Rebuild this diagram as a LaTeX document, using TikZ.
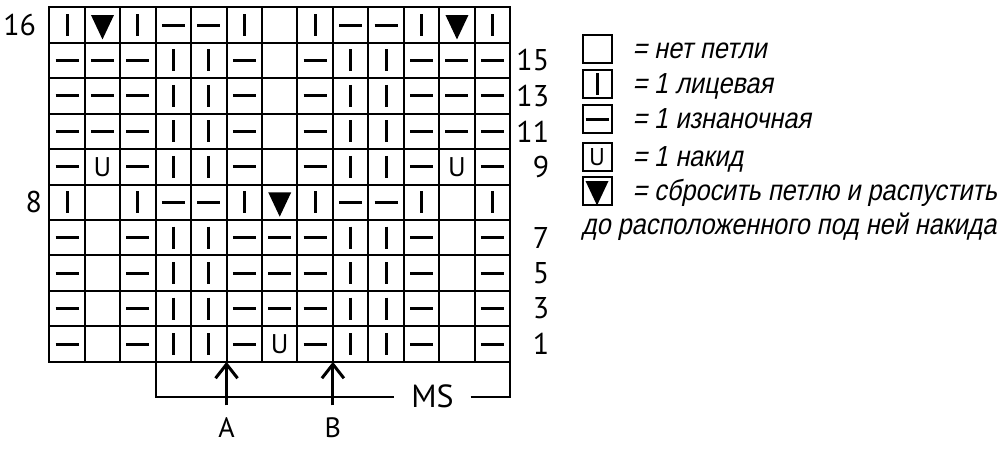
\documentclass[tikz,border=0pt]{standalone}
\usepackage{fontspec}
\setsansfont{PT Sans}
\newfontfamily\legendfont[FakeStretch=0.87,FakeSlant=0.2]{Liberation Sans}
\usetikzlibrary{positioning,arrows.meta}

\begin{document}
\begin{tikzpicture}[x=0.5pt,y=-0.5pt]
        \tikzstyle{every path}=[line width=1pt]
        \useasboundingbox (0,0) rectangle (1000,463);

        \edef\sizecell{17.725pt}
        \def\symscale{1}
        \tikzstyle{cell}=[draw,minimum size=\sizecell,inner sep=0pt,outer sep=0pt]
        \tikzstyle{key}=[draw,minimum width=14.5pt,minimum height=14pt,inner sep=0pt,outer sep=0pt]
        \tikzstyle{num}=[font=\sffamily\fontsize{15}{17}\selectfont,inner sep=0pt]
        \tikzstyle{letter}=[font=\sffamily\fontsize{14}{16}\selectfont,inner sep=0pt]
        \tikzstyle{legend}=[font=\legendfont\fontsize{14.5}{17}\selectfont,inner sep=0pt,anchor=base west]

        %stitch symbols: n no stitch, k knit, p purl, o yarn over, d drop
        \tikzstyle{sym-n}=[]
        \tikzstyle{sym-k}=[path picture={\draw[line width=1.5pt,scale=\symscale]
            (path picture bounding box.center) +(0,5.5pt) -- +(0,-5.5pt);}]
        \tikzstyle{sym-p}=[path picture={\draw[line width=1.5pt,scale=\symscale]
            (path picture bounding box.center) +(-5.75pt,0) -- +(5.75pt,0);}]
        \tikzstyle{sym-o}=[path picture={\node[font=\sffamily\fontsize{13.5}{13.5}\selectfont,inner sep=0pt,scale=\symscale]
            at (path picture bounding box.center) {U};}]
        \tikzstyle{sym-d}=[path picture={\fill[scale=\symscale]
            (path picture bounding box.center) +(-5.75pt,5pt) -- +(5.75pt,5pt) -- +(0,-7.2pt) -- cycle;}]

        %the chart, top row first
        \foreach \row [count=\r] in {
            {k,d,k,p,p,k,n,k,p,p,k,d,k},
            {p,p,p,k,k,p,n,p,k,k,p,p,p},
            {p,p,p,k,k,p,n,p,k,k,p,p,p},
            {p,p,p,k,k,p,n,p,k,k,p,p,p},
            {p,o,p,k,k,p,n,p,k,k,p,o,p},
            {k,n,k,p,p,k,d,k,p,p,k,n,k},
            {p,n,p,k,k,p,p,p,k,k,p,n,p},
            {p,n,p,k,k,p,p,p,k,k,p,n,p},
            {p,n,p,k,k,p,p,p,k,k,p,n,p},
            {p,n,p,k,k,p,o,p,k,k,p,n,p}} {
            \foreach \s [count=\c] in \row {
                \node [cell,sym-\s] (c-\r-\c) at ({49.3+(\c-0.5)*35.45},{7.3+(\r-0.5)*35.45}) {};
            };
        };

        %number the rows
        \node [num,anchor=east] (l16) at ([xshift=-6.15pt]c-1-1.west) {16};
        \node [num,anchor=east] (l8) at ([xshift=-3.15pt]c-6-1.west) {8};
        \foreach \n/\r in {15/2,13/3,11/4,9/5,7/7,5/8,3/9,1/10} {
            \node [num,anchor=east] (l\n) at ([xshift=20pt]c-\r-13.east) {\n};
        };

        %repeat below the chart
        \node [num,font=\sffamily\fontsize{16}{18}\selectfont,inner xsep=8pt] (ms) at (432.5,396.5) {MS};
        \draw (c-10-4.south west) |- (ms.west);
        \draw (ms.east) -| (c-10-13.south east);

        \node [letter,below=27.3pt of c-10-5.south east] (A) {A};
        \node [letter,below=27.3pt of c-10-8.south east] (B) {B};
        \foreach \m/\c in {A/5,B/8} {
            \draw [-{Straight Barb[length=7pt,width=11pt]},line width=1.5pt]
                ([yshift=5.5pt]\m.north) -- (c-10-\c.south east);
        };

        %legend
        \def\symscale{0.9}
        \foreach \s/\y/\txt in {n/49/{= нет петли},k/84/{= 1 лицевая},p/119/{= 1 изнаночная},
                                o/157/{= 1 накид},d/191/{= сбросить петлю и распустить}} {
            \node [key,sym-\s] (key-\s) at (597,\y) {};
            \node [legend] (txt-\s) at ([xshift=10pt,yshift=-4.75pt]key-\s.east) {\txt};
        };
        \node [legend] (txt-d2) at ([xshift=-25.3pt,yshift=-17pt]txt-d.base west) {до расположенного под ней накида};
\end{tikzpicture}
\end{document}
